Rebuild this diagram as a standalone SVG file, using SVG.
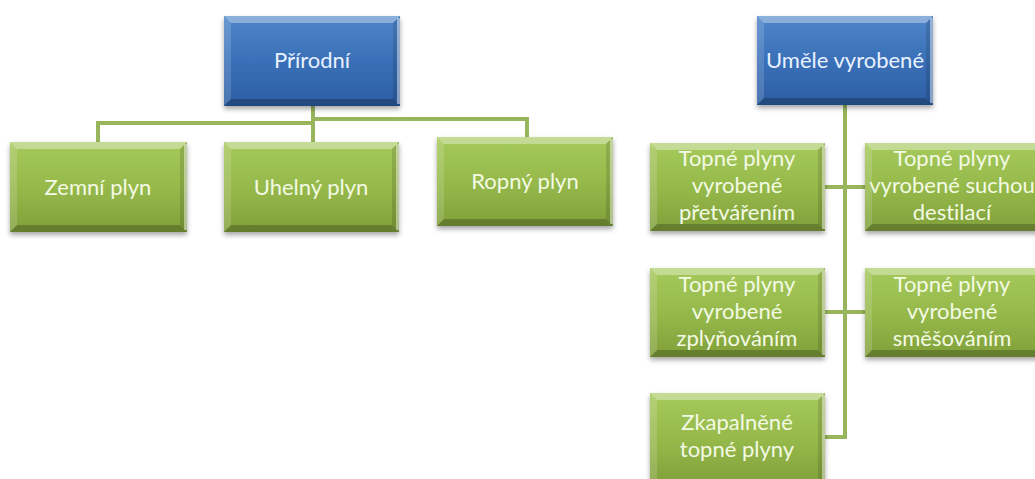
<svg xmlns="http://www.w3.org/2000/svg" width="1035" height="479" viewBox="0 0 1035 479">
<defs>
<linearGradient id="gBlue" x1="0" y1="0" x2="0" y2="1">
<stop offset="0" stop-color="#4f86c9"/>
<stop offset="0.5" stop-color="#3a70b8"/>
<stop offset="1" stop-color="#2c5ea3"/>
</linearGradient>
<linearGradient id="gGreen" x1="0" y1="0" x2="0" y2="1">
<stop offset="0" stop-color="#a6c95c"/>
<stop offset="0.5" stop-color="#96b94b"/>
<stop offset="1" stop-color="#80a03a"/>
</linearGradient>
<filter id="sh" x="-10%" y="-10%" width="120%" height="130%">
<feDropShadow dx="0" dy="3" stdDeviation="2.5" flood-color="#000" flood-opacity="0.35"/>
</filter>
</defs>
<style>
.blue{fill:url(#gBlue);filter:url(#sh)}
.green{fill:url(#gGreen);filter:url(#sh)}
.bt{fill:#ffffff;fill-opacity:0.35}
.bl{fill:#ffffff;fill-opacity:0.15}
.br{fill:#000000;fill-opacity:0.12}
.bb{fill:#000000;fill-opacity:0.22}
.edge{fill:#ffffff;fill-opacity:0.45}
text{font-family:Lato,"Liberation Sans",sans-serif;font-size:22px;text-anchor:middle;font-variant-ligatures:none;font-feature-settings:"liga" 0}
.tb{fill:#e8f1ff}
.tg{fill:#f3fae4}
.conn{fill:none;stroke:#98b55b;stroke-width:4}
</style>
<rect width="1035" height="479" fill="#ffffff"/>
<g id="connectors">
<path class="conn" d="M313,106 V142"/>
<path class="conn" d="M98,142 V123 H313"/>
<path class="conn" d="M313,119 H527 V137"/>
<path class="conn" d="M845,105 V437 H825"/>
<path class="conn" d="M825,187 H865"/>
<path class="conn" d="M825,312 H865"/>
</g>
<g id="prirodni">
<rect class="blue" x="224" y="16" width="176" height="90"/>
<polygon class="bt" points="224,16 400,16 393,23 231,23"/>
<polygon class="bl" points="224,16 231,23 231,99 224,106"/>
<polygon class="br" points="400,16 400,106 393,99 393,23"/>
<polygon class="bb" points="224,106 400,106 393,99 231,99"/>
<rect class="edge" x="397" y="18" width="3" height="86"/>
<text class="tb" x="312" y="68">Přírodní</text>
</g>
<g id="zemni">
<rect class="green" x="10" y="142" width="177" height="90"/>
<polygon class="bt" points="10,142 187,142 180,149 17,149"/>
<polygon class="bl" points="10,142 17,149 17,225 10,232"/>
<polygon class="br" points="187,142 187,232 180,225 180,149"/>
<polygon class="bb" points="10,232 187,232 180,225 17,225"/>
<rect class="edge" x="184" y="144" width="3" height="86"/>
<text class="tg" x="98" y="195">Zemní plyn</text>
</g>
<g id="uhelny">
<rect class="green" x="224" y="142" width="175" height="90"/>
<polygon class="bt" points="224,142 399,142 392,149 231,149"/>
<polygon class="bl" points="224,142 231,149 231,225 224,232"/>
<polygon class="br" points="399,142 399,232 392,225 392,149"/>
<polygon class="bb" points="224,232 399,232 392,225 231,225"/>
<rect class="edge" x="396" y="144" width="3" height="86"/>
<text class="tg" x="311" y="195">Uhelný plyn</text>
</g>
<g id="ropny">
<rect class="green" x="437" y="137" width="176" height="89"/>
<polygon class="bt" points="437,137 613,137 606,144 444,144"/>
<polygon class="bl" points="437,137 444,144 444,219 437,226"/>
<polygon class="br" points="613,137 613,226 606,219 606,144"/>
<polygon class="bb" points="437,226 613,226 606,219 444,219"/>
<rect class="edge" x="610" y="139" width="3" height="85"/>
<text class="tg" x="525" y="189">Ropný plyn</text>
</g>
<g id="umele">
<rect class="blue" x="757" y="16" width="176" height="89"/>
<polygon class="bt" points="757,16 933,16 926,23 764,23"/>
<polygon class="bl" points="757,16 764,23 764,98 757,105"/>
<polygon class="br" points="933,16 933,105 926,98 926,23"/>
<polygon class="bb" points="757,105 933,105 926,98 764,98"/>
<rect class="edge" x="930" y="18" width="3" height="85"/>
<text class="tb" x="845" y="68">Uměle vyrobené</text>
</g>
<g id="pretvarenim">
<rect class="green" x="650" y="143" width="175" height="88"/>
<polygon class="bt" points="650,143 825,143 818,150 657,150"/>
<polygon class="bl" points="650,143 657,150 657,224 650,231"/>
<polygon class="br" points="825,143 825,231 818,224 818,150"/>
<polygon class="bb" points="650,231 825,231 818,224 657,224"/>
<rect class="edge" x="822" y="145" width="3" height="84"/>
<text class="tg" x="737" y="166">Topné plyny</text>
<text class="tg" x="737" y="193">vyrobené</text>
<text class="tg" x="737" y="220">přetvářením</text>
</g>
<g id="suchou">
<rect class="green" x="865" y="143" width="178" height="88"/>
<polygon class="bt" points="865,143 1043,143 1036,150 872,150"/>
<polygon class="bl" points="865,143 872,150 872,224 865,231"/>
<polygon class="bb" points="865,231 1043,231 1036,224 872,224"/>
<text class="tg" x="952" y="166">Topné plyny</text>
<text class="tg" x="952" y="193">vyrobené suchou</text>
<text class="tg" x="952" y="220">destilací</text>
</g>
<g id="zplynovanim">
<rect class="green" x="650" y="268" width="175" height="89"/>
<polygon class="bt" points="650,268 825,268 818,275 657,275"/>
<polygon class="bl" points="650,268 657,275 657,350 650,357"/>
<polygon class="br" points="825,268 825,357 818,350 818,275"/>
<polygon class="bb" points="650,357 825,357 818,350 657,350"/>
<rect class="edge" x="822" y="270" width="3" height="85"/>
<text class="tg" x="737" y="292">Topné plyny</text>
<text class="tg" x="737" y="319">vyrobené</text>
<text class="tg" x="737" y="346">zplyňováním</text>
</g>
<g id="smesovanim">
<rect class="green" x="865" y="268" width="178" height="89"/>
<polygon class="bt" points="865,268 1043,268 1036,275 872,275"/>
<polygon class="bl" points="865,268 872,275 872,350 865,357"/>
<polygon class="bb" points="865,357 1043,357 1036,350 872,350"/>
<text class="tg" x="952" y="292">Topné plyny</text>
<text class="tg" x="952" y="319">vyrobené</text>
<text class="tg" x="952" y="346">směšováním</text>
</g>
<g id="zkapalnene">
<rect class="green" x="650" y="393" width="175" height="92"/>
<polygon class="bt" points="650,393 825,393 818,400 657,400"/>
<polygon class="bl" points="650,393 657,400 657,485 650,485"/>
<polygon class="br" points="825,393 825,485 818,485 818,400"/>
<rect class="edge" x="822" y="395" width="3" height="90"/>
<text class="tg" x="737" y="430">Zkapalněné</text>
<text class="tg" x="737" y="457">topné plyny</text>
</g>
</svg>
